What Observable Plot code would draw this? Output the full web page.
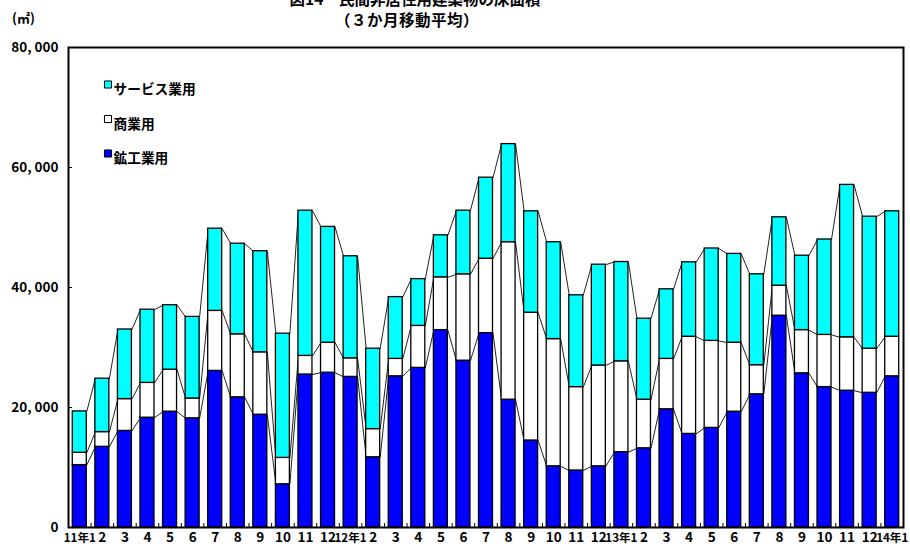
<!DOCTYPE html>
<html><head><meta charset="utf-8">
<script src="https://cdn.jsdelivr.net/npm/d3@7"></script>
<script src="https://cdn.jsdelivr.net/npm/@observablehq/plot@0.6"></script>
<style>
body{margin:0;background:#fff;}
#wrap{position:relative;width:910px;height:549px;overflow:hidden;font-family:"Noto Sans CJK JP",sans-serif;font-weight:bold;color:#000;}
#head{position:relative;height:30px;}
.t{position:absolute;white-space:nowrap;font-size:15.5px;line-height:15px;transform:translateX(-50%);}
#chart svg{display:block;}
</style></head><body>
<div id="wrap">
<div id="head">
<div class="t" style="left:415px;top:-9px">図14　民間非居住用建築物の床面積</div>
<div class="t" style="left:407px;top:12px;letter-spacing:0.5px">（３か月移動平均）</div>
<div style="position:absolute;left:12px;top:10px;font-size:13px;line-height:15px;">(㎡)</div>
</div>
<div id="chart"></div>
</div>
<script>
const months = ["11年1","2","3","4","5","6","7","8","9","10","11","12",
  "12年1","2","3","4","5","6","7","8","9","10","11","12",
  "13年1","2","3","4","5","6","7","8","9","10","11","12","14年1"];
const seriesNames = ["鉱工業用","商業用","サービス業用"];
const mining = [10400,13450,16100,18300,19300,18200,26100,21700,18800,7200,25500,25800,
  25100,11700,25200,26600,32900,27800,32400,21300,14500,10200,9500,10200,
  12550,13200,19700,15600,16600,19300,22200,35300,25700,23400,22800,22450,25200];
const commerce = [2050,2450,5300,5800,7000,3300,10000,10500,10400,4400,3100,5000,
  3100,4700,2900,7000,8800,14400,12400,26250,21300,21200,13900,16800,
  15150,8100,8400,16200,14500,11500,4850,5000,7200,8700,8900,7350,6600];
const service = [6900,8900,11600,12200,10750,13600,13700,15100,16850,20700,24200,19300,
  17000,13400,10300,7800,7000,10600,13500,16350,16900,16150,15300,16800,
  16550,13500,11600,12400,15400,14800,15150,11400,12400,15900,25400,22000,20900];
const yTicks = [0,20000,40000,60000,80000];

const colors = ["#0000ff","#ffffff","#00ffff"];
const seriesValues = [mining, commerce, service];
const hw = 0.31;
const rects = [];
const tops = seriesValues.map(() => []);
months.forEach((m, i) => {
  let base = 0;
  seriesValues.forEach((vals, k) => {
    const top = base + vals[i];
    rects.push({i, series: seriesNames[k], y1: base, y2: top});
    tops[k].push(top);
    base = top;
  });
});
const links = [];
tops.forEach(arr => {
  for (let i = 0; i < arr.length - 1; i++) links.push({x1: i + hw, x2: i + 1 - hw, y1: arr[i], y2: arr[i + 1]});
});

const W = 910, H = 519, mL = 68, mR = 7, mT = 17, mB = 22;
const fw = W - mL - mR, fh = H - mT - mB;

const legendMarks = [];
[2, 1, 0].forEach((k, row) => {
  const dy = 37 + row * 34.5;
  legendMarks.push(Plot.dot([seriesNames[k]], {frameAnchor: "top-left", dx: 39.5, dy, symbol: "square", r: 4, fill: colors[k], stroke: "#000", strokeWidth: 1}));
  legendMarks.push(Plot.text([seriesNames[k]], {text: d => d, frameAnchor: "top-left", dx: 45, dy, textAnchor: "start", fontSize: 13.7, fontWeight: "bold", fill: "#000"}));
});

const idx = d3.range(months.length);
const yearIdx = idx.filter(i => months[i].includes("年"));
const monthIdx = idx.filter(i => !months[i].includes("年"));

const chart = Plot.plot({
  width: W, height: H,
  marginLeft: mL, marginRight: mR, marginTop: mT, marginBottom: mB,
  style: {fontFamily: "'Noto Sans CJK JP', sans-serif", fontWeight: "bold", fontSize: "13px", background: "#fff", color: "#000"},
  x: {type: "linear", domain: [-0.5, months.length - 0.5]},
  y: {domain: [0, 80000]},
  color: {domain: seriesNames, range: colors},
  marks: [
    Plot.link(links, {x1: "x1", y1: "y1", x2: "x2", y2: "y2", stroke: "#222", strokeWidth: 1}),
    Plot.rectY(rects, {x1: d => d.i - hw, x2: d => d.i + hw, y1: "y1", y2: "y2", fill: "series", stroke: "#000", strokeWidth: 1.3}),
    Plot.ruleY(yTicks.slice(1, -1), {y: d => d, insetRight: fw - 4, stroke: "#000"}),
    Plot.ruleX(d3.range(months.length - 1).map(i => i + 0.5), {x: d => d, insetTop: fh - 4, stroke: "#000"}),
    Plot.axisY({ticks: yTicks, tickSize: 0, tickPadding: 10, label: null, fontSize: 13.5,
      tickFormat: v => v === 0 ? "0" : d3.format(",")(v).replace(",", ", ")}),
    Plot.axisX({ticks: monthIdx, tickSize: 0, tickPadding: 5, label: null, fontSize: 13.5, letterSpacing: -0.5,
      tickFormat: i => months[i]}),
    Plot.axisX({ticks: yearIdx, tickSize: 0, tickPadding: 6.5, label: null, fontSize: 11.6, letterSpacing: -0.2,
      tickFormat: i => months[i]}),
    ...legendMarks,
    Plot.frame({stroke: "#000", strokeWidth: 2})
  ]
});
document.getElementById("chart").appendChild(chart);
</script>
</body></html>
